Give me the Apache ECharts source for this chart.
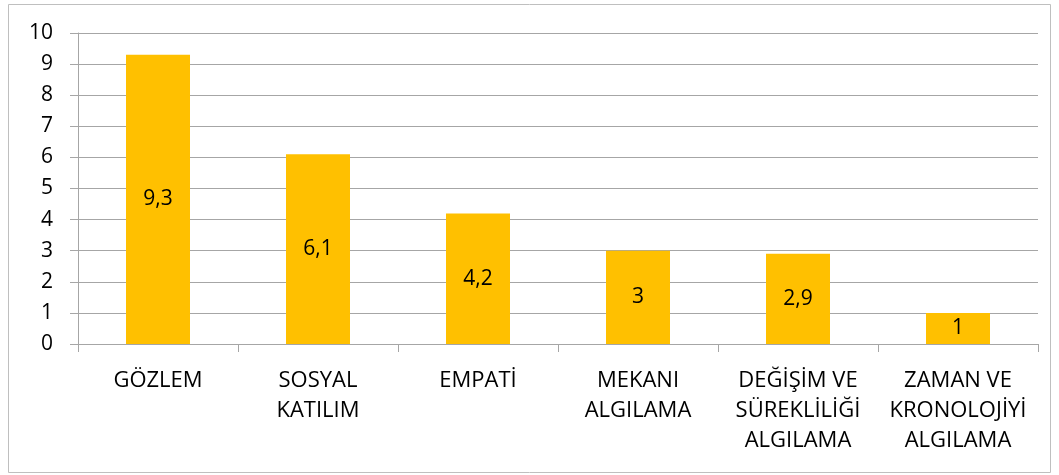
<!DOCTYPE html>
<html><head><meta charset="utf-8">
<script src="https://cdn.jsdelivr.net/npm/echarts@6/dist/echarts.min.js"></script>
<style>html,body{margin:0;padding:0;background:#fff}#c{width:1059px;height:475px}</style>
</head><body><div id="c"></div>
<script>
const categories = ['GÖZLEM', 'SOSYAL\nKATILIM', 'EMPATİ', 'MEKANI\nALGILAMA', 'DEĞİŞİM VE\nSÜREKLİLİĞİ\nALGILAMA', 'ZAMAN VE\nKRONOLOJİYİ\nALGILAMA'];
const values = [9.3, 6.1, 4.2, 3, 2.9, 1];
const yTicks = {min: 0, max: 10, interval: 1};

const chart = echarts.init(document.getElementById('c'));
const font = '"Open Sans", "Liberation Sans", sans-serif';
chart.setOption({
  animation: false,
  textStyle: {fontFamily: font},
  graphic: [{type: 'rect', shape: {x: 8.5, y: 4.5, width: 1042, height: 468}, style: {fill: 'none', stroke: '#BFBFBF', lineWidth: 1}, silent: true}],
  grid: {left: 78, right: 21, top: 33, bottom: 131},
  xAxis: {
    type: 'category', data: categories,
    axisLine: {lineStyle: {color: '#A6A6A6'}},
    axisTick: {show: true, length: 8, lineStyle: {color: '#A6A6A6'}},
    axisLabel: {fontSize: 22, color: '#000', margin: 22, lineHeight: 30, interval: 0, fontFamily: font}
  },
  yAxis: {
    type: 'value', min: yTicks.min, max: yTicks.max, interval: yTicks.interval,
    axisLine: {show: true, lineStyle: {color: '#A6A6A6'}},
    axisTick: {show: true, length: 8, lineStyle: {color: '#A6A6A6'}},
    splitLine: {lineStyle: {color: '#A6A6A6'}},
    axisLabel: {fontSize: 21, color: '#000', margin: 25, fontFamily: font}
  },
  series: [{
    type: 'bar', data: values, barWidth: '40%',
    itemStyle: {color: '#FFC000'},
    label: {show: true, position: 'inside', color: '#000', fontSize: 21, fontFamily: font,
      formatter: p => String(p.value).replace('.', ',')}
  }]
});
</script></body></html>
